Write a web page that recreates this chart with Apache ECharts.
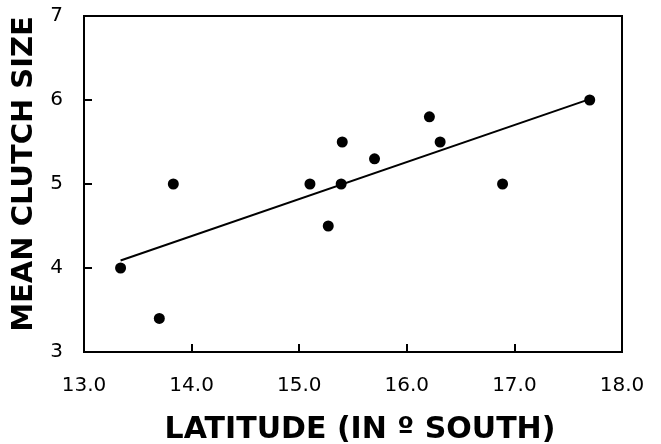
<!DOCTYPE html>
<html>
<head>
<meta charset="utf-8">
<script src="https://cdn.jsdelivr.net/npm/echarts@6/dist/echarts.min.js"></script>
<style>html,body{margin:0;padding:0;background:#fff}#c{width:661px;height:444px}</style>
</head>
<body>
<div id="c"></div>
<script>
// Data
const latitude = [13.34, 13.70, 13.83, 15.10, 15.27, 15.39, 15.40, 15.70, 16.21, 16.31, 16.89, 17.70];
const clutchSize = [4.0, 3.4, 5.0, 5.0, 4.5, 5.0, 5.5, 5.3, 5.8, 5.5, 5.0, 6.0];
const trendX = [13.34, 17.70];
const trendY = [4.09, 6.01];
const xTicks = [13, 14, 15, 16, 17, 18];
const yTicks = [3, 4, 5, 6, 7];

const points = latitude.map((x, i) => [x, clutchSize[i]]);
const trend = trendX.map((x, i) => [x, trendY[i]]);

const chart = echarts.init(document.getElementById('c'), null, {renderer: 'canvas'});
const font = 'DejaVu Sans, Verdana, sans-serif';
chart.setOption({
  animation: false,
  grid: {left: 84, right: 39, top: 16, bottom: 92, containLabel: false, outerBoundsMode: 'none',
         show: true, borderColor: '#000', borderWidth: 2, backgroundColor: 'transparent'},
  xAxis: {
    type: 'value', min: xTicks[0], max: xTicks[xTicks.length - 1], interval: 1,
    name: 'LATITUDE (IN º SOUTH)', nameLocation: 'middle', nameGap: 63,
    nameTextStyle: {fontFamily: font, fontWeight: 'bold', fontSize: 30, color: '#000', padding: [0, 0, 0, 14]},
    axisLine: {show: true, lineStyle: {color: '#000', width: 2}},
    axisTick: {show: true, inside: true, length: 8, lineStyle: {color: '#000', width: 2}},
    axisLabel: {fontFamily: font, fontSize: 20, color: '#000', margin: 24, formatter: v => v.toFixed(1)},
    splitLine: {show: false}
  },
  yAxis: {
    type: 'value', min: yTicks[0], max: yTicks[yTicks.length - 1], interval: 1,
    name: 'MEAN CLUTCH SIZE', nameLocation: 'middle', nameGap: 45, nameRotate: 90,
    nameTextStyle: {fontFamily: font, fontWeight: 'bold', fontSize: 29, color: '#000', padding: [0, 0, 0, 20]},
    axisLine: {show: true, lineStyle: {color: '#000', width: 2}},
    axisTick: {show: true, inside: true, length: 8, lineStyle: {color: '#000', width: 2}},
    axisLabel: {fontFamily: font, fontSize: 20, color: '#000', margin: 21},
    splitLine: {show: false}
  },
  series: [
    {type: 'line', data: trend, symbol: 'none', lineStyle: {color: '#000', width: 2}, z: 2},
    {type: 'scatter', data: points, symbol: 'circle', symbolSize: 11, itemStyle: {color: '#000', opacity: 1}, z: 3}
  ]
});
</script>
</body>
</html>
